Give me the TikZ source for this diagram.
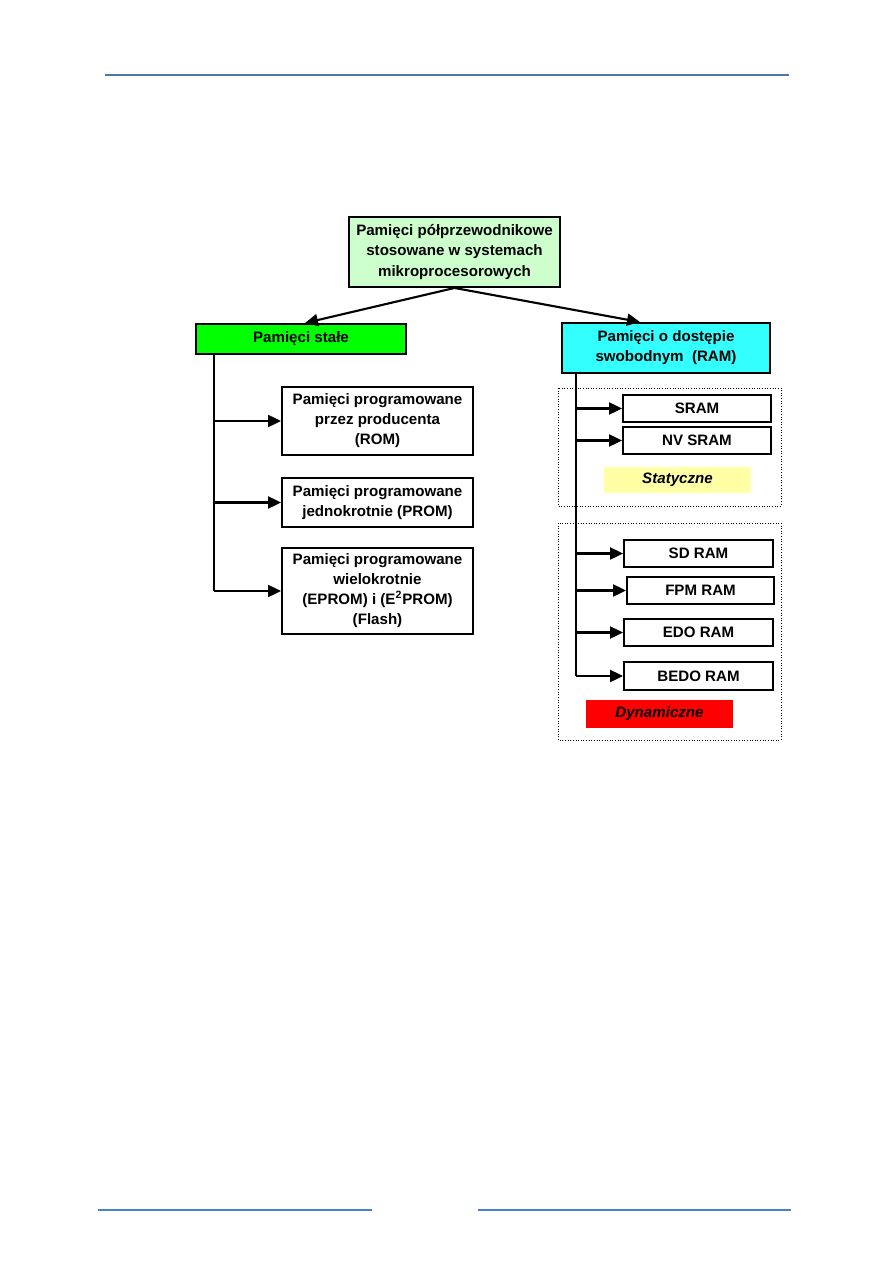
\documentclass[tikz,border=0pt]{standalone}
\usepackage{fontspec}
\setmainfont{Liberation Sans}
\usetikzlibrary{arrows.meta}
\definecolor{topgreen}{HTML}{CCFFCC}
\definecolor{romgreen}{HTML}{00FF00}
\definecolor{ramcyan}{HTML}{33FFFF}
\definecolor{statyellow}{HTML}{FFFFA6}
\definecolor{dynred}{HTML}{FF0000}
\definecolor{headline}{HTML}{5275A8}
\definecolor{footline}{HTML}{4A80CC}
\tikzset{
  memo/.style={
    draw=black,
    line width=1.1pt,
    fill=#1,
    inner sep=1pt,
    align=center,
    font=\bfseries\fontsize{8.6}{11.4}\selectfont
  },
  memo/.default=white,
  tag/.style={
    fill=#1,
    inner sep=0pt,
    minimum width=2.94cm,
    font=\bfseries\itshape\fontsize{8.6}{11.4}\selectfont
  },
  group/.style={draw=black,densely dotted,line width=0.5pt},
  arr/.style={-{Triangle[length=0.26cm,width=0.24cm]},line width=1.2pt},
  link/.style={line width=1.2pt}
}
\begin{document}
\begin{tikzpicture}[x=0.02cm,y=-0.02cm]
  \useasboundingbox (0,0) rectangle (893,1263);
  % page rules
  \draw[headline,line width=0.9pt] (105,75) -- (789,75);
  \draw[footline,line width=0.9pt] (98,1210) -- (372,1210);
  \draw[footline,line width=0.9pt] (478,1210) -- (791,1210);

  % groups
  \draw[group] (558,388) rectangle (781,506);
  \draw[group] (558,523) rectangle (781,740);

  % main nodes
  \node[memo=topgreen, minimum width=4.22cm, minimum height=1.40cm] (top) at (454.5,252)
    {Pamięci półprzewodnikowe\\stosowane w systemach\\mikroprocesorowych};
  \node[memo=romgreen, minimum width=4.20cm, minimum height=0.60cm] (stale) at (301,339)
    {Pamięci stałe};
  \node[memo=ramcyan, minimum width=4.16cm, minimum height=1.00cm] (ram) at (666,348)
    {Pamięci o dostępie\\swobodnym\ \ (RAM)};

  % read-only memories
  \node[memo, minimum width=3.82cm, minimum height=1.36cm] (rom) at (377.5,421)
    {Pamięci programowane\\przez producenta\\(ROM)};
  \node[memo, minimum width=3.82cm, minimum height=0.98cm] (prom) at (377.5,502.5)
    {Pamięci programowane\\jednokrotnie (PROM)};
  \node[memo, minimum width=3.82cm, minimum height=1.72cm] (eprom) at (377.5,591)
    {Pamięci programowane\\wielokrotnie\\(EPROM) i (E\textsuperscript{2}PROM)\\(Flash)};

  % random access memories
  \node[memo, minimum width=2.96cm, minimum height=0.54cm] (sram) at (697,408.5) {SRAM};
  \node[memo, minimum width=2.96cm, minimum height=0.54cm] (nvsram) at (697,440.5) {NV SRAM};
  \node[tag=statyellow, minimum height=0.52cm] (stat) at (677.5,480) {Statyczne};
  \node[memo, minimum width=2.98cm, minimum height=0.54cm] (sdram) at (698.5,553.5) {SD RAM};
  \node[memo, minimum width=2.94cm, minimum height=0.54cm] (fpm) at (700.5,590.5) {FPM RAM};
  \node[memo, minimum width=2.98cm, minimum height=0.54cm] (edo) at (698.5,632.5) {EDO RAM};
  \node[memo, minimum width=2.98cm, minimum height=0.56cm] (bedo) at (698.5,676) {BEDO RAM};
  \node[tag=dynred, minimum height=0.56cm] (dyn) at (659.5,714) {Dynamiczne};

  % top level arrows
  \draw[arr] (top.south) -- ([xshift=0.08cm]stale.north);
  \draw[arr] (top.south) -- ([xshift=-0.52cm]ram.north);

  % left branch
  \coordinate (lbus) at ([xshift=0.38cm]stale.south west);
  \draw[link] (lbus) -- (lbus |- eprom.west);
  \foreach \n in {rom,prom,eprom}
    \draw[arr] (lbus |- \n.west) -- (\n.west);

  % right branch
  \coordinate (rbus) at ([xshift=0.30cm]ram.south west);
  \draw[link] (rbus) -- (rbus |- bedo.west);
  \foreach \n in {sram,nvsram,sdram,fpm,edo,bedo}
    \draw[arr] (rbus |- \n.west) -- (\n.west);
\end{tikzpicture}
\end{document}
